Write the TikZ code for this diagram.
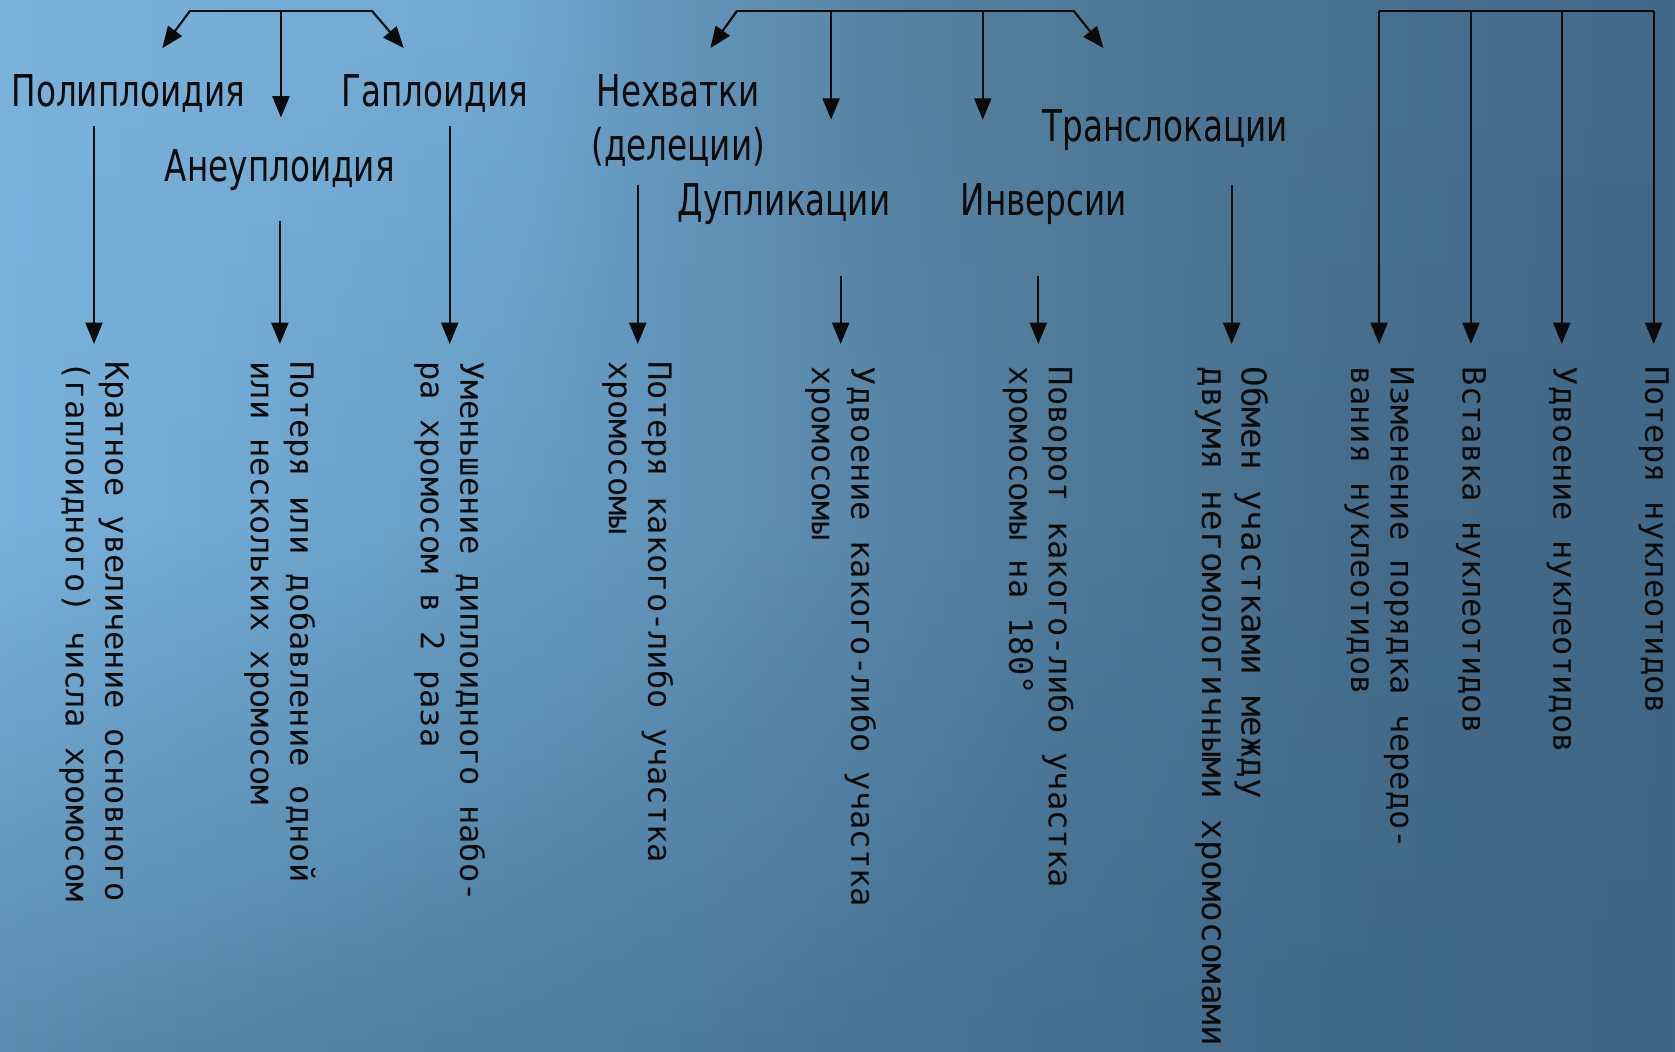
\documentclass[tikz,border=0pt]{standalone}
\usepackage{fontspec}
\newfontfamily\headfont[FakeStretch=0.745]{DejaVu Sans}
\newfontfamily\descfont{DejaVu Sans Mono}
\usetikzlibrary{arrows.meta,fadings}
\definecolor{t0}{HTML}{7AB2DC}\definecolor{t1}{HTML}{72AAD4}\definecolor{t2}{HTML}{6699C0}
\definecolor{t3}{HTML}{55819F}\definecolor{t4}{HTML}{4B7593}\definecolor{t5}{HTML}{436A88}
\definecolor{m0}{HTML}{78B1DB}\definecolor{m1}{HTML}{6BA3CB}\definecolor{m2}{HTML}{6193B8}
\definecolor{m3}{HTML}{517E9D}\definecolor{m4}{HTML}{466E8C}\definecolor{m5}{HTML}{406785}
\definecolor{b0}{HTML}{5A8BB0}\definecolor{b1}{HTML}{5182A5}\definecolor{b2}{HTML}{4A7A9C}
\definecolor{b3}{HTML}{446F8F}\definecolor{b4}{HTML}{3E6482}
\definecolor{ink}{HTML}{0A0A0A}
\pgfdeclarehorizontalshading{toprow}{100bp}{color(0bp)=(t0); color(25bp)=(t0); color(40bp)=(t1); color(44.1bp)=(t2); color(52.1bp)=(t3); color(61.7bp)=(t4); color(75bp)=(t5); color(100bp)=(t5)}
\pgfdeclarehorizontalshading{midrow}{100bp}{color(0bp)=(m0); color(25bp)=(m0); color(36.2bp)=(m1); color(45.7bp)=(m2); color(55.3bp)=(m3); color(64.9bp)=(m4); color(75bp)=(m5); color(100bp)=(m5)}
\pgfdeclarehorizontalshading{botrow}{100bp}{color(0bp)=(b0); color(25bp)=(b0); color(35.5bp)=(b1); color(45.9bp)=(b2); color(56.9bp)=(b3); color(75bp)=(b4); color(100bp)=(b4)}
\tikzfading[name=fadetop, top color=transparent!100, bottom color=transparent!0]
\begin{document}
\begin{tikzpicture}[x=0.5pt,y=-0.5pt,
  heading/.style={inner sep=0pt, text=ink, font=\headfont\fontsize{20.5}{25}\selectfont},
  desc/.style={inner sep=0pt, text=ink, rotate=-90, anchor=west, align=left, font=\descfont\fontsize{15}{18.5}\selectfont},
  arr/.style={draw=ink, line width=1pt, -{Triangle[width=8pt,length=10pt]}},
  bar/.style={draw=ink, line width=1pt}]
\useasboundingbox (0,0) rectangle (1568,984);
% background
\shade[shading=toprow] (0,0) rectangle (1568,493);
\shade[shading=midrow, path fading=fadetop] (0,0) rectangle (1568,493);
\shade[shading=midrow] (0,492) rectangle (1568,984);
\shade[shading=botrow, path fading=fadetop] (0,492) rectangle (1568,984);

% headings
\node[heading, anchor=base] (poly) at (120,100) {Полиплоидия};
\node[heading, anchor=base] (aneu) at (262,170) {Анеуплоидия};
\node[heading, anchor=base] (gaplo) at (407,100) {Гаплоидия};
\node[heading, align=center] (nehv) at (635,113) {Нехватки\\(делеции)};
\node[heading, anchor=base] (dupl) at (734,202) {Дупликации};
\node[heading, anchor=base] (inv) at (977,202) {Инверсии};
\node[heading, anchor=base] (trans) at (1091,132) {Транслокации};

% descriptions
\node[desc] (dA) at (88,338) {Кратное увеличение основного\\(гаплоидного) числа хромосом};
\node[desc] (dB) at (262,338) {Потеря или добавление одной\\или нескольких хромосом};
\node[desc] (dC) at (421,338) {Уменьшение диплоидного набо-\\ра хромосом в 2 раза};
\node[desc] (dD) at (597,338) {Потеря какого-либо участка\\хромосомы};
\node[desc] (dE) at (787,343) {Удвоение какого-либо участка\\хромосомы};
\node[desc] (dF) at (972,343) {Поворот какого-либо участка\\хромосомы на 180°};
\node[desc, font=\descfont\fontsize{16}{18.5}\selectfont] (dG) at (1153,343) {Обмен участками между\\двумя негомологичными хромосомами};
\node[desc] (dH) at (1291,343) {Изменение порядка чередо-\\вания нуклеотидов};
\node[desc] (dI) at (1377,343) {Вставка нуклеотидов};
\node[desc] (dJ) at (1462,343) {Удвоение нуклеотидов};
\node[desc] (dK) at (1548,343) {Потеря нуклеотидов};

% group 1
\coordinate (g1L) at (178,10); \coordinate (g1M) at (263,10); \coordinate (g1R) at (348,10);
\coordinate (g1a) at (152,45); \coordinate (g1b) at (263,110); \coordinate (g1c) at (378,45);
\draw[bar] (g1L) -- (g1R);
\draw[arr] (g1L) -- (g1a);
\draw[arr] (g1M) -- (g1b);
\draw[arr] (g1R) -- (g1c);
% group 2
\coordinate (g2L) at (690,10); \coordinate (g2R) at (1005,10);
\coordinate (g2M1) at (778,10); \coordinate (g2M2) at (920,10);
\coordinate (g2a) at (665,45); \coordinate (g2b) at (778,112); \coordinate (g2c) at (920,112); \coordinate (g2d) at (1033,45);
\draw[bar] (g2L) -- (g2R);
\draw[arr] (g2L) -- (g2a);
\draw[arr] (g2M1) -- (g2b);
\draw[arr] (g2M2) -- (g2c);
\draw[arr] (g2R) -- (g2d);
% group 3
\coordinate (g3a) at (1291,10); \coordinate (g3b) at (1377,10); \coordinate (g3c) at (1462,10); \coordinate (g3d) at (1548,10);
\draw[bar] (g3a) -- (g3d);
\draw[arr, shorten >=10.5pt] (g3a) -- (dH.west);
\draw[arr, shorten >=10.5pt] (g3b) -- (dI.west);
\draw[arr, shorten >=10.5pt] (g3c) -- (dJ.west);
\draw[arr, shorten >=10.5pt] (g3d) -- (dK.west);

% heading to description
\coordinate (sA) at (88,118); \coordinate (sB) at (262,207); \coordinate (sC) at (421,118);
\coordinate (sD) at (597,173); \coordinate (sE) at (787,258); \coordinate (sF) at (972,258); \coordinate (sG) at (1153,173);
\draw[arr, shorten >=8pt] (sA) -- (dA.west);
\draw[arr, shorten >=8pt] (sB) -- (dB.west);
\draw[arr, shorten >=8pt] (sC) -- (dC.west);
\draw[arr, shorten >=8pt] (sD) -- (dD.west);
\draw[arr, shorten >=10.5pt] (sE) -- (dE.west);
\draw[arr, shorten >=10.5pt] (sF) -- (dF.west);
\draw[arr, shorten >=10.5pt] (sG) -- (dG.west);
\end{tikzpicture}
\end{document}
